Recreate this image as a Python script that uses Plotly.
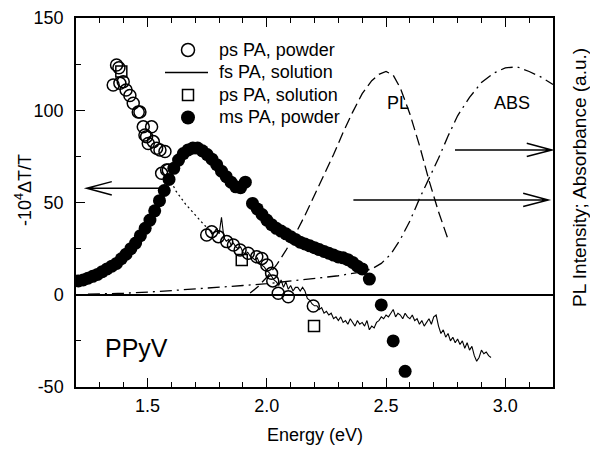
import plotly.graph_objects as go

# ---------------- data ----------------
ps_powder_x = [1.356, 1.37, 1.38, 1.384, 1.398, 1.41, 1.426, 1.44, 1.461, 1.468, 1.482, 1.489,
               1.496, 1.503, 1.517, 1.524, 1.538, 1.552, 1.559, 1.573, 1.58, 1.587,
               1.748, 1.769, 1.797, 1.832, 1.86, 1.888, 1.922, 1.958, 1.979, 2.0, 2.02,
               2.025, 2.048, 2.09, 2.195]
ps_powder_y = [113.7, 124.5, 123.0, 114.6, 115.5, 111.0, 108.0, 103.8, 99.0, 99.0, 91.0, 86.6,
               85.7, 82.0, 91.0, 83.0, 79.4, 78.5, 65.8, 77.6, 67.6, 67.6,
               32.4, 34.2, 31.5, 28.8, 27.0, 24.3, 22.5, 20.6, 19.7, 16.1, 11.6,
               7.5, 0.8, -1.1, -6.1]

ps_solution_x = [1.39, 1.895, 2.198]
ps_solution_y = [121.0, 18.8, -17.0]

ms_powder_x = [1.21, 1.23, 1.25, 1.27, 1.29, 1.31, 1.33, 1.35, 1.37, 1.39, 1.41, 1.43, 1.45,
               1.47, 1.49, 1.51, 1.53, 1.55, 1.57, 1.59, 1.61, 1.63, 1.65, 1.67, 1.69, 1.71,
               1.73, 1.75, 1.77, 1.79, 1.81, 1.83, 1.85, 1.87, 1.89, 1.91,
               1.94, 1.96, 1.98, 2.00, 2.02, 2.04, 2.06, 2.08, 2.10, 2.12, 2.14, 2.16, 2.18,
               2.20, 2.22, 2.24, 2.26, 2.28, 2.30, 2.32, 2.34, 2.36, 2.38, 2.40,
               2.43, 2.48, 2.53, 2.58]
ms_powder_y = [7.5, 8.0, 9.0, 10.0, 11.0, 12.5, 14.0, 15.5, 17.0, 19.5, 22.0, 25.0, 28.0,
               32.0, 36.0, 40.5, 45.5, 51.0, 56.5, 62.5, 68.5, 73.0, 76.5, 78.5, 79.5, 79.5,
               78.0, 76.0, 73.5, 70.5, 67.0, 64.0, 61.0, 58.5, 58.0, 61.0,
               49.5, 46.5, 43.5, 40.5, 38.0, 36.0, 34.5, 33.0, 31.5, 30.0, 28.5, 27.5, 26.5,
               25.5, 24.5, 23.5, 22.5, 21.5, 20.5, 20.0, 19.0, 17.5, 15.5, 14.0,
               8.5, -5.5, -25.0, -41.5]

fs_solution_x = [round(1.76 + 0.01 * i, 2) for i in range(119)]
fs_solution_y = [35, 33, 34, 36, 33, 42, 31, 29, 30, 27,
                 28, 26, 25, 26, 23, 22, 23, 21, 20, 19,
                 20, 17, 16, 15, 13, 12, 10, 8, 7, 5,
                 8, 4, 7, 3, 5, 2, 4, 4, 2, 4,
                 2, -2, -3, -5, -6, -6, -8, -7, -10, -9,
                 -11, -10, -13, -12, -14, -12, -15, -14, -16, -13,
                 -15, -17, -14, -16, -15, -17, -14, -19, -17, -18,
                 -15, -14, -12, -13, -11, -12, -10, -8, -12, -10,
                 -11, -13, -10, -12, -13, -11, -14, -13, -16, -14,
                 -17, -15, -13, -16, -12, -11, -17, -21, -19, -23,
                 -21, -25, -23, -26, -24, -27, -25, -29, -26, -30,
                 -28, -33, -36, -34, -30, -32, -31, -33, -34]

guide_x = [1.58, 1.62, 1.66, 1.70, 1.74, 1.77]
guide_y = [66, 56, 49, 43, 37.5, 34]

pl_x = [1.93, 1.96, 2.00, 2.04, 2.08, 2.12, 2.16, 2.20, 2.24, 2.28, 2.32, 2.36, 2.40, 2.44,
        2.47, 2.50, 2.53, 2.56, 2.60, 2.64, 2.68, 2.72, 2.76]
pl_y = [1, 4, 9.5, 16, 24, 33, 43, 54, 65, 76, 88, 99, 109, 116,
        119.5, 121, 119, 112, 98, 81, 62, 45, 30]

abs_x = [1.25, 1.40, 1.55, 1.70, 1.80, 1.90, 2.00, 2.10, 2.20, 2.30, 2.38, 2.44, 2.48, 2.52,
         2.56, 2.60, 2.64, 2.68, 2.72, 2.76, 2.80, 2.85, 2.90, 2.95, 3.00, 3.05, 3.10, 3.15, 3.20]
abs_y = [0.3, 0.8, 1.8, 3, 4, 5, 6, 7.3, 8.7, 10.3, 12, 14, 17, 22,
         30, 40, 52, 63, 74, 86, 97, 107, 115, 120, 123, 123.5, 121, 118, 114]

x_ticks = [1.5, 2.0, 2.5, 3.0]
x_tick_text = ["1.5", "2.0", "2.5", "3.0"]
y_ticks = [-50, 0, 50, 100, 150]
y_tick_text = ["-50", "0", "50", "100", "150"]

legend_labels = ["ps PA, powder", "fs PA, solution", "ps PA, solution", "ms PA, powder"]

# ---------------- figure ----------------
FONT = "Liberation Sans, Arial, Helvetica, sans-serif"
W, H = 590, 450
ML, MR, MT, MB = 76, 37, 18, 63
PW, PH = W - ML - MR, H - MT - MB


def px_x(p):
    return (p - ML) / PW


def px_y(p):
    return (H - MB - p) / PH


fig = go.Figure()

fig.add_trace(go.Scatter(x=abs_x, y=abs_y, mode="lines", showlegend=False,
                         line=dict(color="black", width=1.3, dash="12px,5px,2px,5px")))
fig.add_trace(go.Scatter(x=pl_x, y=pl_y, mode="lines", showlegend=False,
                         line=dict(color="black", width=1.3, dash="11px,5px")))
fig.add_trace(go.Scatter(x=guide_x, y=guide_y, mode="lines", showlegend=False,
                         line=dict(color="black", width=1.2, dash="2px,3px")))

fig.add_trace(go.Scatter(x=ps_powder_x, y=ps_powder_y, mode="markers", name=legend_labels[0],
                         showlegend=False,
                         marker=dict(symbol="circle-open", size=12, color="black",
                                     line=dict(width=1.5, color="black"))))
fig.add_trace(go.Scatter(x=fs_solution_x, y=fs_solution_y, mode="lines", name=legend_labels[1],
                         showlegend=False, line=dict(color="black", width=1.1)))
fig.add_trace(go.Scatter(x=ps_solution_x, y=ps_solution_y, mode="markers", name=legend_labels[2],
                         showlegend=False,
                         marker=dict(symbol="square-open", size=11, color="black",
                                     line=dict(width=1.5, color="black"))))
fig.add_trace(go.Scatter(x=ms_powder_x, y=ms_powder_y, mode="markers", name=legend_labels[3],
                         showlegend=False,
                         marker=dict(symbol="circle", size=13, color="black",
                                     line=dict(width=0))))

# ---- hand-built legend (symbols as pixel-sized shapes, labels as text) ----
rows = [50, 72.5, 95, 117.5]
sym_x = 188
for i, (lab, ry) in enumerate(zip(legend_labels, rows)):
    ax, ay = px_x(sym_x), px_y(ry)
    if i == 0:
        fig.add_shape(type="circle", xref="paper", yref="paper", xsizemode="pixel",
                      ysizemode="pixel", xanchor=ax, yanchor=ay, x0=-6.5, x1=6.5, y0=-6.5, y1=6.5,
                      line=dict(color="black", width=1.5))
    elif i == 1:
        fig.add_shape(type="line", xref="paper", yref="paper", x0=px_x(165), x1=px_x(208),
                      y0=ay, y1=ay, line=dict(color="black", width=1.3))
    elif i == 2:
        fig.add_shape(type="rect", xref="paper", yref="paper", xsizemode="pixel",
                      ysizemode="pixel", xanchor=ax, yanchor=ay, x0=-5.5, x1=5.5, y0=-5.5, y1=5.5,
                      line=dict(color="black", width=1.5))
    else:
        fig.add_shape(type="circle", xref="paper", yref="paper", xsizemode="pixel",
                      ysizemode="pixel", xanchor=ax, yanchor=ay, x0=-7, x1=7, y0=-7, y1=7,
                      line=dict(color="black", width=0), fillcolor="black")
    fig.add_annotation(xref="paper", yref="paper", x=px_x(217), y=ay, text=lab,
                       xanchor="left", yanchor="middle", showarrow=False,
                       font=dict(family=FONT, size=18, color="#000000"))


# arrows (open chevron heads)
def arrow(x0, x1, y, head_dx=0.105, head_dy=3.6):
    d = head_dx if x1 < x0 else -head_dx
    path = (f"M {x0},{y} L {x1},{y} "
            f"M {x1 + d},{y + head_dy} L {x1},{y} L {x1 + d},{y - head_dy}")
    fig.add_shape(type="path", path=path, xref="x", yref="y",
                  line=dict(color="black", width=1.5))


arrow(1.552, 1.245, 57.7)
arrow(2.789, 3.195, 78.5)
arrow(2.363, 3.18, 51.4)

fig.add_annotation(x=2.55, y=104, text="PL", showarrow=False, xanchor="center", yanchor="middle",
                   font=dict(family=FONT, size=18, color="#000000"))
fig.add_annotation(x=3.03, y=104, text="ABS", showarrow=False, xanchor="center", yanchor="middle",
                   font=dict(family=FONT, size=18, color="#000000"))
fig.add_annotation(x=1.455, y=-29, text="PPyV", showarrow=False, xanchor="center", yanchor="middle",
                   font=dict(family=FONT, size=25, color="#000000"))

# axis titles
fig.add_annotation(xref="paper", yref="paper", x=px_x(23), y=px_y(190),
                   text="-10<sup>4</sup>ΔT/T", textangle=-90, showarrow=False,
                   xanchor="center", yanchor="middle",
                   font=dict(family=FONT, size=18, color="#000000"))
fig.add_annotation(xref="paper", yref="paper", x=px_x(579), y=px_y(178),
                   text="PL Intensity; Absorbance (a.u.)", textangle=-90, showarrow=False,
                   xanchor="center", yanchor="middle",
                   font=dict(family=FONT, size=19, color="#000000"))
fig.add_annotation(xref="paper", yref="paper", x=px_x(315), y=px_y(435),
                   text="Energy (eV)", showarrow=False, xanchor="center", yanchor="middle",
                   font=dict(family=FONT, size=18, color="#000000"))

fig.update_layout(
    width=W, height=H,
    margin=dict(l=ML, r=MR, t=MT, b=MB, autoexpand=False),
    paper_bgcolor="white", plot_bgcolor="white",
    font=dict(family=FONT, size=18, color="black"),
    showlegend=False,
    xaxis=dict(range=[1.2, 3.2], tickvals=x_ticks, ticktext=x_tick_text, automargin=False,
               ticks="inside", ticklen=9, tickwidth=1.3, tickcolor="black",
               showline=True, linecolor="black", linewidth=1.5, mirror="ticks",
               showgrid=False, zeroline=False, ticklabelstandoff=2,
               minor=dict(dtick=0.1, tick0=1.2, ticks="inside", ticklen=5,
                          tickwidth=1.2, tickcolor="black", showgrid=False)),
    yaxis=dict(range=[-50, 150], tickvals=y_ticks, ticktext=y_tick_text, automargin=False,
               ticks="inside", ticklen=9, tickwidth=1.3, tickcolor="black",
               showline=True, linecolor="black", linewidth=1.5, mirror=True,
               showgrid=False, zeroline=True, zerolinecolor="black", zerolinewidth=1.5,
               ticklabelstandoff=7,
               minor=dict(dtick=25, tick0=0, ticks="inside", ticklen=5,
                          tickwidth=1.2, tickcolor="black", showgrid=False)),
)

fig.write_html("out.html")
